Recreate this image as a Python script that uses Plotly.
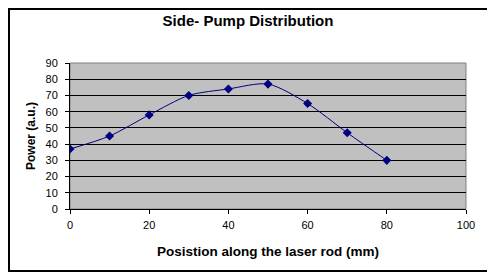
import plotly.graph_objects as go

positions = [0, 10, 20, 30, 40, 50, 60, 70, 80]
power = [37, 45, 58, 70, 74, 77, 65, 47, 30]

# Page body has an 8px margin, so the figure is sized to fit the 495x275 window.
W, H = 487, 267
L, R, T, B = 62, 29, 55, 66
PW, PH = W - L - R, H - T - B

fig = go.Figure()
fig.add_trace(go.Scatter(
    x=positions, y=power, mode="lines+markers",
    line=dict(color="#000080", width=1, shape="spline", smoothing=0.8),
    marker=dict(symbol="diamond", size=7, color="#000080"),
    showlegend=False,
))

fig.update_layout(
    width=W, height=H,
    margin=dict(l=L, r=R, t=T, b=B),
    paper_bgcolor="white", plot_bgcolor="#C0C0C0",
    font=dict(family="Arial, Liberation Sans", size=11, color="black"),
    title=dict(text="<b>Side- Pump Distribution</b>", x=(248 - 8) / W, xanchor="center",
               y=1 - 13 / H, yanchor="middle", font=dict(size=15)),
    shapes=[
        dict(type="rect", xref="paper", yref="paper", x0=0, x1=1, y0=0, y1=1,
             line=dict(color="#808080", width=1), layer="below"),
        dict(type="rect", xref="paper", yref="paper",
             x0=(1 - L) / PW, x1=(481 - L) / PW,
             y0=(T + PH - 263) / PH, y1=(T + PH - 1) / PH,
             line=dict(color="black", width=2)),
    ],
)
fig.update_xaxes(
    range=[0, 100], dtick=20, tick0=0, showgrid=False, zeroline=False,
    showline=True, linecolor="black", linewidth=1,
    ticks="outside", ticklen=4, tickcolor="black", ticklabelstandoff=2,
    title=dict(text="<b>Posistion along the laser rod (mm)</b>", font=dict(size=13.5), standoff=16),
)
fig.update_yaxes(
    range=[0, 90], dtick=10, tick0=0, showgrid=True, gridcolor="black", gridwidth=1,
    zeroline=False, showline=True, linecolor="black", linewidth=1,
    ticks="outside", ticklen=4, tickcolor="black", ticklabelstandoff=5,
    title=dict(text="<b>Power (a.u.)</b>", font=dict(size=12), standoff=7),
)

fig.write_html("out.html")
